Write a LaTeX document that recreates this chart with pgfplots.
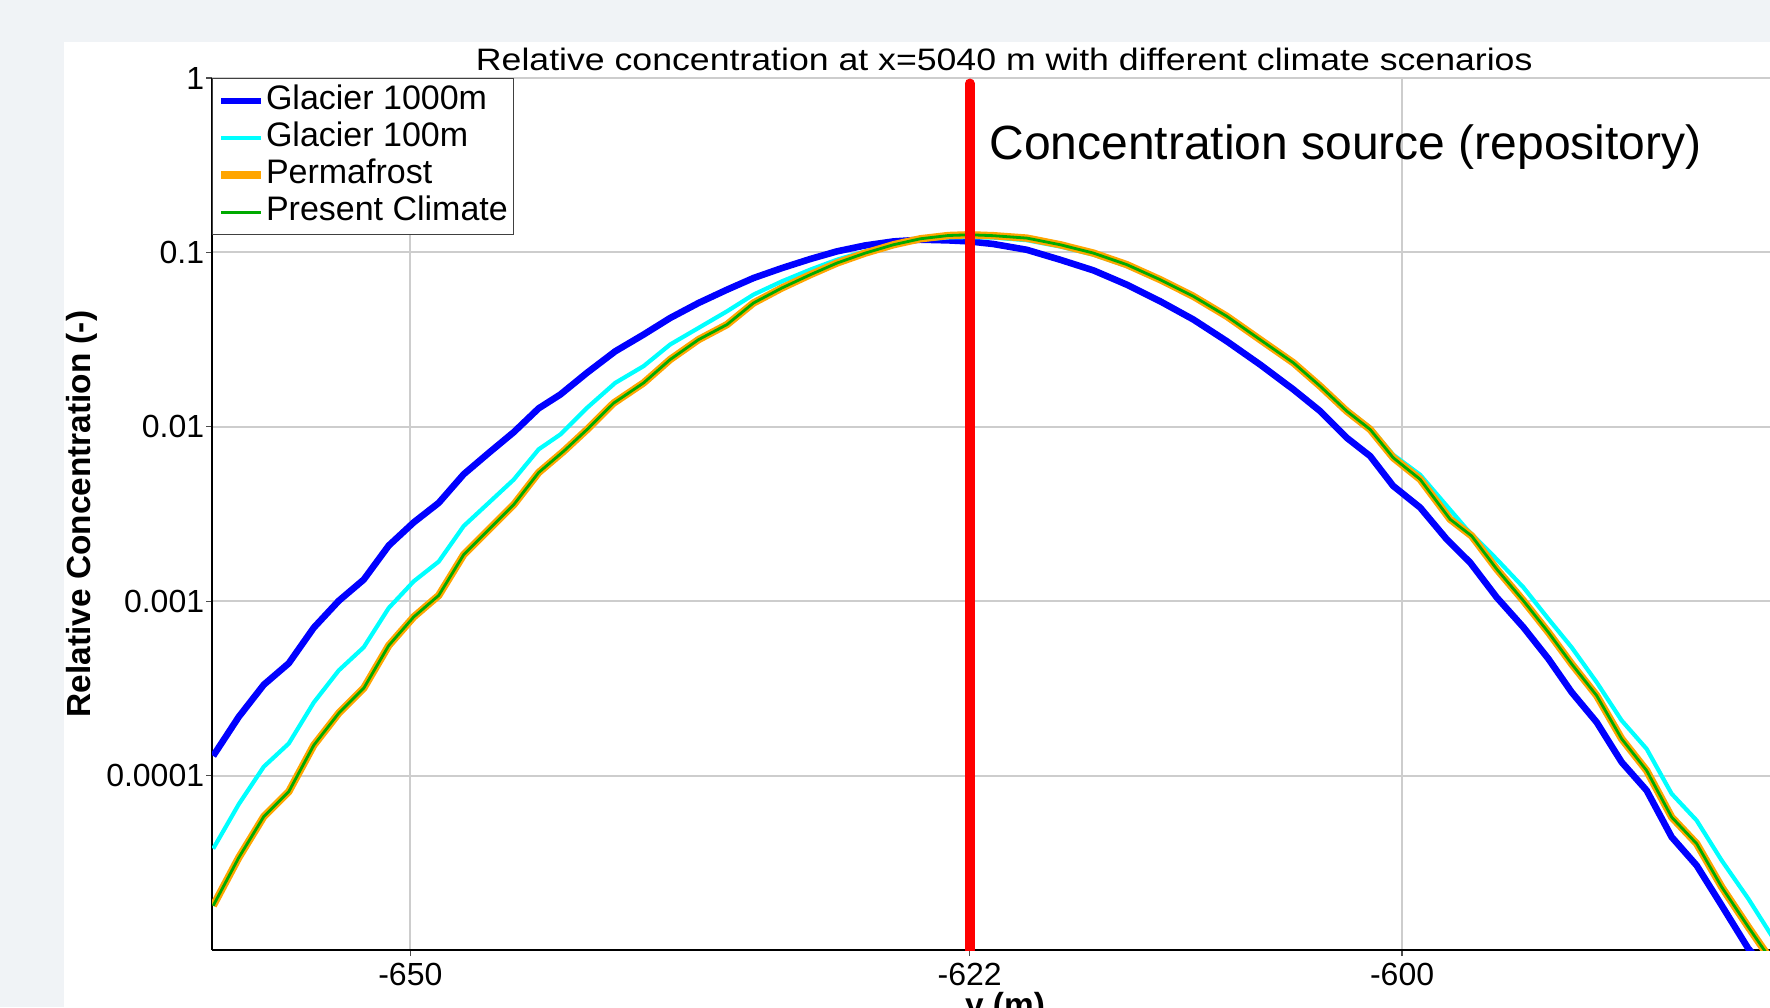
\documentclass[border=0pt]{standalone}
\usepackage{pgfplots}
\pgfplotsset{compat=1.18}
\usepackage{pgfplotstable}
\usepackage{fontspec}
\setmainfont{Liberation Sans}
\newfontfamily\titlefont[FakeStretch=1.15]{Liberation Sans}
\definecolor{bgc}{RGB}{240,243,246}
\definecolor{gridc}{RGB}{205,205,205}
\definecolor{gcyan}{RGB}{0,255,255}
\definecolor{gblue}{RGB}{0,0,255}
\definecolor{pforange}{RGB}{255,165,0}
\definecolor{pcgreen}{RGB}{0,170,0}

\pgfplotstableread{
x y
-659.94 1.297e-4
-658.65 2.173e-4
-657.39 3.319e-4
-656.13 4.406e-4
-654.87 7.047e-4
-653.61 1.005e-3
-652.35 1.330e-3
-651.09 2.084e-3
-649.83 2.831e-3
-648.57 3.664e-3
-647.31 5.346e-3
-646.05 7.079e-3
-644.79 9.310e-3
-643.53 1.276e-2
-642.44 1.531e-2
-641.09 2.042e-2
-639.67 2.710e-2
-638.24 3.381e-2
-636.90 4.207e-2
-635.47 5.129e-2
-634.04 6.109e-2
-632.70 7.129e-2
-631.27 8.128e-2
-629.84 9.162e-2
-628.49 0.1014
-627.07 0.1096
-625.64 0.1156
-624.29 0.1183
-622.87 0.1172
-621.80 0.1156
-620.60 0.1117
-618.92 0.1035
-617.24 9.078e-2
-615.56 7.889e-2
-613.88 6.531e-2
-612.20 5.248e-2
-610.52 4.121e-2
-608.84 3.097e-2
-607.16 2.275e-2
-605.48 1.637e-2
-604.13 1.230e-2
-602.79 8.650e-3
-601.61 6.792e-3
-600.45 4.581e-3
-599.09 3.443e-3
-597.75 2.265e-3
-596.57 1.667e-3
-595.23 1.052e-3
-593.88 7.079e-4
-592.62 4.667e-4
-591.45 3.006e-4
-590.19 2.023e-4
-588.93 1.194e-4
-587.67 8.222e-5
-586.41 4.446e-5
-585.15 3.055e-5
-583.89 1.803e-5
-582.55 1.021e-5
-581.30 7.08e-6
}\glacierthousand

\pgfplotstableread{
x y
-659.94 3.811e-5
-658.65 6.855e-5
-657.39 1.125e-4
-656.13 1.528e-4
-654.87 2.624e-4
-653.61 4.009e-4
-652.35 5.445e-4
-651.09 9.141e-4
-649.83 1.300e-3
-648.57 1.687e-3
-647.31 2.698e-3
-646.05 3.664e-3
-644.79 4.977e-3
-643.53 7.430e-3
-642.44 9.036e-3
-641.09 1.285e-2
-639.67 1.786e-2
-638.24 2.228e-2
-636.90 2.965e-2
-635.47 3.690e-2
-634.04 4.592e-2
-632.70 5.728e-2
-631.27 6.823e-2
-629.84 7.962e-2
-628.49 9.078e-2
-627.07 0.1014
-625.64 0.1107
-624.29 0.1183
-622.87 0.1219
-621.80 0.1225
-620.60 0.1216
-618.92 0.1175
-617.24 0.1081
-615.56 9.705e-2
-613.88 8.356e-2
-612.20 6.887e-2
-610.52 5.546e-2
-608.84 4.285e-2
-607.16 3.162e-2
-605.48 2.344e-2
-604.13 1.738e-2
-602.79 1.259e-2
-601.61 9.886e-3
-600.45 6.918e-3
-599.09 5.309e-3
-596.74 2.588e-3
-595.23 1.742e-3
-593.88 1.199e-3
-592.62 7.907e-4
-591.45 5.433e-4
-590.19 3.428e-4
-588.93 2.070e-4
-587.67 1.422e-4
-586.41 7.870e-5
-585.15 5.534e-5
-583.89 3.266e-5
-582.55 1.972e-5
-581.30 1.175e-5
}\glacierhundred

\pgfplotstableread{
x y
-659.94 1.795e-5
-658.65 3.388e-5
-657.39 5.821e-5
-656.13 8.091e-5
-654.87 1.493e-4
-653.61 2.280e-4
-652.35 3.170e-4
-651.09 5.572e-4
-649.83 8.128e-4
-648.57 1.079e-3
-647.31 1.849e-3
-646.05 2.570e-3
-644.79 3.573e-3
-643.53 5.470e-3
-642.27 7.244e-3
-641.01 9.840e-3
-639.75 1.368e-2
-638.24 1.786e-2
-636.90 2.432e-2
-635.47 3.162e-2
-634.04 3.855e-2
-632.70 5.129e-2
-631.27 6.252e-2
-629.84 7.447e-2
-628.49 8.690e-2
-627.07 9.908e-2
-625.64 0.1107
-624.29 0.1197
-622.87 0.1250
-621.80 0.1262
-620.60 0.1247
-618.92 0.1208
-617.24 0.1107
-615.56 9.908e-2
-613.88 8.511e-2
-612.20 6.982e-2
-610.52 5.598e-2
-608.84 4.305e-2
-607.16 3.162e-2
-605.48 2.328e-2
-604.13 1.710e-2
-602.79 1.230e-2
-601.61 9.661e-3
-600.45 6.653e-3
-599.09 5.000e-3
-597.58 2.951e-3
-596.49 2.366e-3
-595.23 1.528e-3
-593.88 1.005e-3
-592.62 6.622e-4
-591.45 4.365e-4
-590.19 2.877e-4
-588.93 1.626e-4
-587.67 1.069e-4
-586.41 5.781e-5
-585.15 4.074e-5
-583.89 2.301e-5
-582.55 1.358e-5
-581.80 1.021e-5
-581.30 8.51e-6
}\permafrost

\pgfplotstableread{
x y
-659.94 1.795e-5
-658.65 3.388e-5
-657.39 5.821e-5
-656.13 8.091e-5
-654.87 1.493e-4
-653.61 2.280e-4
-652.35 3.170e-4
-651.09 5.572e-4
-649.83 8.128e-4
-648.57 1.079e-3
-647.31 1.849e-3
-646.05 2.570e-3
-644.79 3.573e-3
-643.53 5.470e-3
-642.27 7.244e-3
-641.01 9.840e-3
-639.75 1.368e-2
-638.24 1.786e-2
-636.90 2.432e-2
-635.47 3.162e-2
-634.04 3.855e-2
-632.70 5.129e-2
-631.27 6.252e-2
-629.84 7.447e-2
-628.49 8.690e-2
-627.07 9.908e-2
-625.64 0.1107
-624.29 0.1197
-622.87 0.1250
-621.80 0.1262
-620.60 0.1247
-618.92 0.1208
-617.24 0.1107
-615.56 9.908e-2
-613.88 8.511e-2
-612.20 6.982e-2
-610.52 5.598e-2
-608.84 4.305e-2
-607.16 3.162e-2
-605.48 2.328e-2
-604.13 1.710e-2
-602.79 1.230e-2
-601.61 9.661e-3
-600.45 6.653e-3
-599.09 5.000e-3
-597.58 2.951e-3
-596.49 2.366e-3
-595.23 1.528e-3
-593.88 1.005e-3
-592.62 6.622e-4
-591.45 4.365e-4
-590.19 2.877e-4
-588.93 1.626e-4
-587.67 1.069e-4
-586.41 5.781e-5
-585.15 4.074e-5
-583.89 2.301e-5
-582.55 1.358e-5
-581.80 1.021e-5
-581.30 8.51e-6
}\presentclimate

\pgfplotstableread{
x y
-621.8 1e-5
-621.8 0.93
}\sourceline

\begin{document}
\begin{tikzpicture}
\path[use as bounding box, fill=bgc] (0pt,0pt) rectangle (885pt,503.5pt);
\fill[white] (32pt,0pt) rectangle (885pt,482.5pt);
\begin{axis}[
  at={(106pt,28.5pt)}, anchor=south west,
  scale only axis, width=779pt, height=436pt,
  xmin=-660, xmax=-581.45,
  ymode=log, ymin=1e-5, ymax=1,
  axis x line*=bottom, axis y line*=left,
  axis line style={black, line width=0.8pt},
  xtick={-650,-621.8,-600}, xticklabels={-650,-622,-600},
  ytick={1,0.1,0.01,0.001,0.0001}, yticklabels={1,0.1,0.01,0.001,0.0001},
  yminorticks=false,
  grid=major, major grid style={gridc, line width=1pt},
  tick align=outside, major tick length=3pt,
  tick style={black!70, line width=0.6pt},
  /pgf/number format/assume math mode=true,
  ticklabel style={font=\fontsize{16}{16}\selectfont},
  yticklabel style={xshift=2.6pt},
  title={Relative concentration at x=5040 m with different climate scenarios},
  title style={at={(axis description cs:0.5085,1)}, anchor=base, yshift=-2pt, font=\titlefont\fontsize{15.5}{15.5}\selectfont},
  xlabel={y (m)},
  xlabel style={at={(axis description cs:0.509,-0.0768)}, anchor=base, font=\bfseries\fontsize{16.7}{16.7}\selectfont},
  ylabel={Relative Concentration (-)},
  ylabel style={at={(axis description cs:-0.0834,0.5)}, anchor=center, font=\bfseries\fontsize{16.7}{16.7}\selectfont},
  legend style={at={(0,1)}, anchor=north west, draw=black!75, line width=0.6pt, fill=white,
    inner xsep=2.5pt, inner ysep=3pt, row sep=2pt,
    font=\fontsize{17}{17}\selectfont,
    nodes={inner sep=0.5pt, text height=12pt, text depth=3.5pt}},
  legend cell align=left,
  legend image code/.code={\draw[#1] (0pt,0pt) -- (20pt,0pt);},
]
\addplot[color=gblue, line width=3.3pt, line join=round] table[x=x,y=y] {\glacierthousand};
\addlegendentry{Glacier 1000m}
\addplot[color=gcyan, line width=2.1pt, line join=round] table[x=x,y=y] {\glacierhundred};
\addlegendentry{Glacier 100m}
\addplot[color=pforange, line width=3.7pt, line join=round] table[x=x,y=y] {\permafrost};
\addlegendentry{Permafrost}
\addplot[color=pcgreen, line width=1.4pt, line join=round] table[x=x,y=y] {\presentclimate};
\addlegendentry{Present Climate}
\addplot[color=red, line width=5pt, line cap=round, forget plot] table[x=x,y=y] {\sourceline};
\end{axis}
\node[anchor=base west, font=\fontsize{24}{24}\selectfont, inner sep=0pt] at (494.5pt,423.5pt) {Concentration source (repository)};
\end{tikzpicture}
\end{document}
